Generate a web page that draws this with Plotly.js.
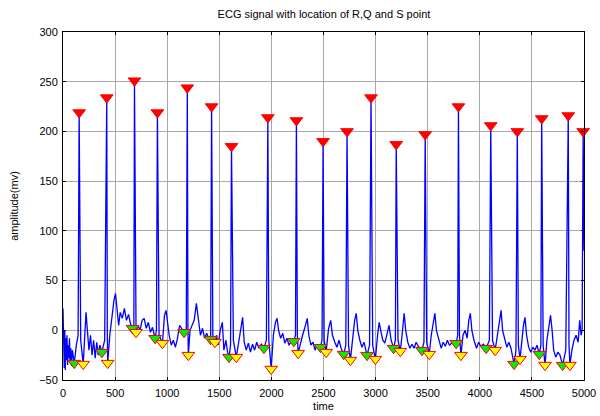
<!DOCTYPE html>
<html>
<head>
<meta charset="utf-8">
<script src="https://cdn.plot.ly/plotly-3.0.1.min.js"></script>
<style>html,body{margin:0;padding:0;background:#fff;}#chart{width:600px;height:416px;}</style>
</head>
<body>
<div id="chart"></div>
<script>
// ECG signal (time, amplitude)
const sigX = [0,4,8,12,17,22,27,32,38,44,50,56,62,68,75,82,90,99,108,128,145,155,170,194,
209,221,234,249,264,279,294,309,324,339,354,373,400,420,425,429,
449,469,489,504,519,534,549,569,589,609,629,649,667,680,686,695,701,
719,739,759,779,799,819,839,859,884,897,906,922,954,
974,989,1004,1019,1039,1059,1079,1099,1119,1139,1162,1183,1193,1199,1203,
1219,1239,1259,1280,1299,1319,1339,1359,1379,1401,1417,1426,1438,1458,
1474,1489,1509,1529,1544,1564,1579,1593,1608,1617,1635,1663,
1689,1714,1724,1739,1759,1779,1799,1819,1839,1859,1879,1904,1928,1952,1966,1975,1998,
2019,2039,2054,2069,2089,2109,2129,2149,2169,2194,2215,2231,2240,2249,2257,
2279,2299,2319,2344,2359,2379,2399,2419,2439,2455,2471,2486,2496,2506,2525,
2549,2569,2586,2609,2629,2649,2669,2694,2714,2726,2740,2758,
2779,2799,2814,2829,2849,2869,2889,2918,2942,2956,2972,2998,
3019,3034,3049,3069,3089,3109,3129,3149,3173,3190,3198,3215,3237,
3254,3274,3289,3309,3329,3349,3369,3389,3409,3445,3464,3476,3490,3515,
3534,3554,3569,3584,3609,3629,3649,3669,3689,3709,3739,3773,3788,3795,3805,3819,
3839,3859,3879,3894,3909,3924,3944,3969,3989,4009,4034,4061,4092,4105,4122,4147,
4169,4189,4204,4219,4239,4259,4279,4299,4329,4347,4360,4370,4386,
4404,4419,4434,4449,4469,4489,4509,4529,4549,4571,4586,4594,4608,4626,
4644,4664,4679,4694,4709,4729,4749,4769,4795,4825,4849,4856,4865,
4884,4904,4924,4944,4959,4972,4982,4992,5000];
const sigY = [22,-25,10,-38,0,-40,-8,-30,-5,-35,-15,-28,-8,-32,-18,-36,-20,-30,-33,-15,-5,219,-10,-34,
-10,18,0,-20,-5,-25,-10,-28,-12,-25,-15,-22,-10,234,0,-33,
-5,15,30,37,20,5,18,12,22,10,16,6,2,5,251,5,-2,
5,0,10,12,2,8,-2,3,-8,0,219,-5,-13,
15,20,5,-5,-15,-10,-17,-8,5,2,-2,0,244,0,-25,
0,5,10,27,10,-5,2,-8,-3,-9,-9,225,-5,-12,
-5,-15,0,8,-20,-10,-22,-27,-15,185,-10,-27,
-10,5,13,-12,-20,-13,-22,-14,-20,-12,-18,-14,-18,-10,214,-10,-39,
-5,8,12,0,-8,-3,-13,-8,-15,-10,-11,-5,211,-5,-23,
-12,-5,2,12,-5,-15,-12,-20,-14,-18,-17,-10,190,-10,-22,
2,10,-5,-12,-17,-10,-18,-24,-15,200,-15,-30,
-10,10,17,0,-10,-17,-12,-25,-15,234,-15,-29,
-5,8,0,-10,-13,-5,5,-10,-18,-10,187,-10,-21,
-5,17,0,-12,-18,-14,-18,-12,-16,-20,-12,197,-12,-24,
-5,10,17,0,-10,-18,-12,-16,-10,-15,-12,-13,-5,225,-5,-25,
-5,0,-8,10,17,0,-10,-18,-12,-16,-14,-18,-10,206,-10,-20,
-5,10,20,0,-10,-17,-12,-18,-34,-20,200,-15,-29,
-10,5,13,-5,-17,-22,-17,-20,-15,-24,-15,213,-15,-35,
-10,5,15,0,-20,-27,-22,-25,-35,-20,216,-15,-35,
-20,-10,-5,-12,10,-5,0,200,80];

// R, Q and S points
const rX = [155,420,686,906,1193,1426,1617,1966,2240,2496,2726,2956,3198,3476,3795,4105,4360,4594,4849,4992];
const rY = [219,234,251,219,244,225,185,214,211,190,200,234,187,197,225,206,200,213,216,200];
const qX = [108,373,667,884,1162,1417,1593,1928,2215,2471,2694,2918,3173,3445,3773,4061,4329,4571,4795];
const qY = [-33,-22,2,-8,-2,-9,-27,-18,-11,-17,-24,-25,-18,-20,-13,-18,-34,-24,-35];
const sX = [194,429,701,954,1203,1458,1663,1998,2257,2525,2758,2998,3237,3515,3819,4147,4386,4626,4865];
const sY = [-34,-33,-2,-13,-25,-12,-27,-39,-23,-22,-30,-29,-21,-24,-25,-20,-29,-35,-35];

const xTicks = [0,500,1000,1500,2000,2500,3000,3500,4000,4500,5000];
const yTicks = [-50,0,50,100,150,200,250,300];

const FONT = 'Liberation Sans, Arial, sans-serif';

const traces = [
  {x: sigX, y: sigY, type: 'scatter', mode: 'lines', line: {color: '#0000ff', width: 1.3}, hoverinfo: 'skip'},
  {x: rX, y: rY, type: 'scatter', mode: 'markers', cliponaxis: false,
   marker: {symbol: 'triangle-down', size: 11, color: '#ff0000', line: {color: '#ff0000', width: 1}}},
  {x: qX, y: qY, type: 'scatter', mode: 'markers', cliponaxis: false,
   marker: {symbol: 'triangle-down', size: 11, color: '#00ee00', line: {color: '#ff0000', width: 1}}},
  {x: sX, y: sY, type: 'scatter', mode: 'markers', cliponaxis: false,
   marker: {symbol: 'triangle-down', size: 11, color: '#ffff00', line: {color: '#ff0000', width: 1}}}
];

const axisCommon = {
  showline: true, linecolor: '#000', linewidth: 1, mirror: 'ticks',
  ticks: 'inside', ticklen: 3, tickcolor: '#000',
  showgrid: true, gridcolor: '#a8a8a8', gridwidth: 1,
  zeroline: false, tickfont: {family: FONT, size: 11, color: '#000'}
};

const layout = {
  width: 600, height: 416,
  margin: {l: 63, r: 16, t: 32, b: 36},
  paper_bgcolor: '#fff', plot_bgcolor: '#fff',
  showlegend: false,
  title: {text: 'ECG signal with location of R,Q and S point', x: 0.54, xanchor: 'center', y: 0.975, yanchor: 'top',
          font: {family: FONT, size: 11, color: '#000'}},
  xaxis: Object.assign({}, axisCommon, {range: [0, 5000], tickvals: xTicks, autorange: false, ticklabelstandoff: 3,
          title: {text: 'time', standoff: 4, font: {family: FONT, size: 11, color: '#000'}}}),
  yaxis: Object.assign({}, axisCommon, {range: [-50, 300], tickvals: yTicks, autorange: false, ticklabelstandoff: 2,
          title: {text: 'amplitude(mv)', standoff: 18, font: {family: FONT, size: 11, color: '#000'}}})
};

Plotly.newPlot('chart', traces, layout, {staticPlot: true, displayModeBar: false});
</script>
</body>
</html>
